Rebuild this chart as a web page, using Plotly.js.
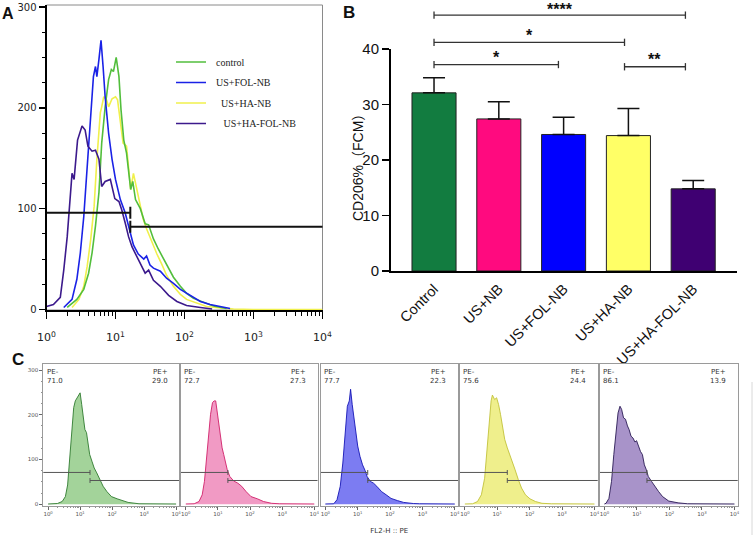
<!DOCTYPE html>
<html><head><meta charset="utf-8">
<script src="https://cdn.plot.ly/plotly-3.0.1.min.js"></script>
<style>html,body{margin:0;padding:0;background:#fff}#chart{width:753px;height:535px}</style>
</head><body><div id="chart"></div>
<script>
// ---------------- Panel A : overlaid PE histograms (log10 intensity, cell count)
const aControlLog   = [0.3,0.44,0.54,0.61,0.66,0.71,0.76,0.80,0.85,0.90,0.94,0.97,1.01,1.05,1.08,1.12,1.16,1.19,1.22,1.25,1.29,1.36,1.43,1.48,1.55,1.62,1.70,1.77,1.84,1.94,2.03,2.13,2.27,2.42,2.61];
const aControlCount = [2,10,20,36,56,83,116,165,201,228,238,236,250,231,198,168,155,135,119,127,109,100,85,84,70,60,50,42,32,23,16,11,7,3.5,1];
const aFolLog   = [0.25,0.37,0.44,0.49,0.54,0.59,0.64,0.68,0.71,0.73,0.76,0.79,0.82,0.85,0.9,0.95,1.0,1.07,1.14,1.21,1.26,1.33,1.41,1.45,1.5,1.55,1.65,1.74,1.84,1.94,2.03,2.13,2.23,2.37,2.52,2.66];
const aFolCount = [2,10,30,56,92,142,182,231,241,231,248,267,241,211,175,149,129,109,96,76,64,55,50,53,44,41,38,31,26,20,16,12,8,5,3,1];
const aHaLog   = [0.37,0.47,0.54,0.59,0.64,0.69,0.73,0.78,0.80,0.83,0.87,0.90,0.95,1.0,1.03,1.07,1.11,1.16,1.19,1.22,1.26,1.30,1.35,1.40,1.45,1.53,1.60,1.67,1.74,1.84,1.94,2.03,2.18,2.32,2.52,2.71,3.0,4.0];
const aHaCount = [2,10,23,43,69,102,149,195,201,211,208,201,209,211,208,185,165,162,139,119,135,122,109,90,80,66,55,45,34,23,15,10,6,3,1.5,0.5,0,0];
const aHaFolLog   = [0,0.1,0.2,0.25,0.3,0.35,0.37,0.4,0.45,0.515,0.56,0.6,0.66,0.71,0.76,0.8,0.85,0.925,0.99,1.05,1.09,1.14,1.19,1.24,1.31,1.38,1.43,1.48,1.55,1.65,1.77,1.89,2.03,2.23,2.4];
const aHaFolCount = [3,5,12,39,72,118,135,129,168,182,178,162,157,158,149,122,127,129,110,107,99,86,72,62,52,42,36,39,29,23,14,8,4,2,0.5];
const aNames  = ['control','US+FOL-NB','US+HA-NB','US+HA-FOL-NB'];
const aColors = ['#52be3c','#1a22e6','#f0f04c','#3c1a8c'];
// gate in panel A
const aGateSplit = 16.4, aGateLeft = 96, aGateRight = 82;

// ---------------- Panel B : CD206% bar chart
const bCategories = ['Control','US+NB','US+FOL-NB','US+HA-NB','US+HA-FOL-NB'];
const bMeans  = [32.1, 27.4, 24.6, 24.4, 14.8];
const bErrors = [2.7, 3.1, 3.1, 4.9, 1.5];
const bColors = ['#127c40','#ff0a7f','#0000ff','#ffff66','#3f0072'];
const bTitle = 'CD206%（FCM）';
// significance brackets (category positions, level in % units, label)
const sigX0 = [0, 0, 0, 2.94];
const sigX1 = [3.88, 2.94, 1.92, 3.88];
const sigLevel = [46.1, 41.2, 37.2, 36.8];
const sigLabel = ['****', '*', '*', '**'];

// ---------------- Panel C : individual PE histograms
const cNames = ['Control','US+NB','US+FOL-NB','US+HA-NB','US+HA-FOL-NB'];
const cLog = [
  [0,0.29,0.44,0.54,0.61,0.67,0.74,0.80,0.85,0.91,0.96,1.0,1.05,1.10,1.15,1.20,1.25,1.30,1.37,1.44,1.52,1.62,1.72,1.84,1.98,2.16,2.30,2.5,2.84,4],
  [0,0.26,0.41,0.51,0.58,0.64,0.71,0.77,0.83,0.88,0.93,0.98,1.03,1.08,1.13,1.18,1.23,1.29,1.37,1.49,1.62,1.74,1.88,2.03,2.23,2.42,2.67,2.91,4],
  [0,0.26,0.36,0.46,0.54,0.61,0.68,0.74,0.78,0.83,0.88,0.93,1.0,1.07,1.15,1.23,1.29,1.39,1.49,1.59,1.74,1.88,2.03,2.23,2.42,2.72,2.91,4],
  [0,0.24,0.39,0.51,0.61,0.68,0.75,0.81,0.85,0.92,0.98,1.04,1.10,1.17,1.23,1.31,1.39,1.47,1.55,1.65,1.75,1.87,2.01,2.18,2.38,2.67,4],
  [0,0.05,0.14,0.22,0.29,0.36,0.42,0.48,0.53,0.59,0.65,0.71,0.76,0.82,0.88,0.94,0.99,1.05,1.11,1.17,1.23,1.29,1.35,1.45,1.55,1.67,1.79,1.98,2.27,2.56,4]
];
const cCount = [
  [0.5,1.5,6,17,43,96,156,216,231,238,242,249,223,193,167,160,130,111,96,81,70,55,40,28,17,12,8,4,1,0.5],
  [0.5,1,6,21,51,96,156,201,227,231,231,205,178,148,126,111,96,77,62,52,47,40,28,17,12,6,2,1,0.5],
  [0.5,1,10,40,92,160,219,231,257,223,197,160,130,107,88,75,62,51,47,40,28,21,13,8,4,1.5,1,0.5],
  [0.5,1,6,21,58,118,186,231,244,234,238,223,201,171,145,126,111,96,77,55,36,21,12,6,2,1,0.5],
  [0.5,2,13,51,111,171,204,219,212,193,190,175,167,152,148,139,142,130,118,111,88,77,62,51,40,28,17,7,3,1,0.5]
];
const cNeg = [71.0, 72.7, 77.7, 75.6, 86.1];
const cPos = [29.0, 27.3, 22.3, 24.4, 13.9];
const cFill = ['#a3d39a','#f19ac4','#7c7cf2','#efef8c','#a893c9'];
const cLine = ['#2f7a2f','#d0206a','#1515b5','#c2c23a','#2a1b55'];
const cGateSplit = 20.4, cGateLeft = 71, cGateRight = 53;

// ---------------- helpers
const W = 753, H = 535;
const px = v => v / W;
const py = v => 1 - v / H;
const pow10 = a => a.map(v => Math.pow(10, v));
const decades = [1, 10, 100, 1000, 10000];
const decadeText = ['10<sup>0</sup>','10<sup>1</sup>','10<sup>2</sup>','10<sup>3</sup>','10<sup>4</sup>'];
const minorLog = [];
for (let d = 0; d < 4; d++) for (let k = 2; k <= 9; k++) minorLog.push(k * Math.pow(10, d));
const minorLin = (step, max, major) => { const o = []; for (let v = step; v <= max; v += step) if (v % major) o.push(v); return o; };

function gateXY(split, left, right, half, xmin) {
  return {
    x: [xmin, split, null, split, split, null, split, 20000, null, split, split],
    y: [left, left, null, left - half, left + half, null, right, right, null, right - half, right + half]
  };
}

const traces = [];
// Panel A curves
const aLogs = [aControlLog, aFolLog, aHaLog, aHaFolLog];
const aCounts = [aControlCount, aFolCount, aHaCount, aHaFolCount];
const aPad = ['\u00a0\u00a0','\u00a0\u00a0','\u00a0\u00a0\u00a0\u00a0','\u00a0\u00a0\u00a0\u00a0\u00a0'];
const drawOrder = [2, 0, 1, 3];
drawOrder.forEach(i => {
  traces.push({
    type: 'scatter', mode: 'lines', xaxis: 'x', yaxis: 'y',
    x: pow10(aLogs[i]), y: aCounts[i],
    name: aPad[i] + aNames[i], legendgroup: 'g' + i, legendrank: i + 1,
    line: {color: aColors[i], width: 1.6}, hoverinfo: 'skip'
  });
});
const ga = gateXY(aGateSplit, aGateLeft, aGateRight, 6, 1);
traces.push({type: 'scatter', mode: 'lines', xaxis: 'x', yaxis: 'y', x: ga.x, y: ga.y,
  line: {color: '#111', width: 2}, showlegend: false, hoverinfo: 'skip'});

// Panel B bars
traces.push({
  type: 'bar', xaxis: 'x2', yaxis: 'y2', x: bCategories, y: bMeans, width: 0.68,
  marker: {color: bColors, line: {color: '#222', width: 1}},
  error_y: {type: 'data', symmetric: false, array: bErrors, arrayminus: bMeans.map(() => 0),
            color: '#111', thickness: 1.5, width: 11},
  showlegend: false, hoverinfo: 'skip'
});

// Panel C histograms
for (let i = 0; i < 5; i++) {
  const xa = 'x' + (3 + i), ya = 'y' + (3 + i);
  traces.push({
    type: 'scatter', mode: 'lines', xaxis: xa, yaxis: ya,
    x: pow10(cLog[i]), y: cCount[i], fill: 'tozeroy', fillcolor: cFill[i],
    line: {color: cLine[i], width: 0.9}, name: cNames[i], showlegend: false, hoverinfo: 'skip'
  });
  const g = gateXY(cGateSplit, cGateLeft, cGateRight, 5.5, 0.6);
  traces.push({type: 'scatter', mode: 'lines', xaxis: xa, yaxis: ya, x: g.x, y: g.y,
    line: {color: '#555', width: 1}, showlegend: false, hoverinfo: 'skip'});
}

// ---------------- layout
const axBase = {showgrid: false, zeroline: false, fixedrange: true};
const layout = {
  width: W, height: H, margin: {l: 0, r: 0, t: 0, b: 0},
  paper_bgcolor: '#fff', plot_bgcolor: 'rgba(0,0,0,0)',
  font: {family: 'Liberation Sans, Arial, sans-serif', color: '#111'},
  showlegend: true,
  legend: {x: px(171), y: py(47.5), xanchor: 'left', yanchor: 'top', bgcolor: 'rgba(0,0,0,0)',
           borderwidth: 0, itemwidth: 30, tracegroupgap: 1.5, traceorder: 'grouped',
           font: {family: 'Liberation Serif, Times New Roman, serif', size: 10, color: '#222'}},
  xaxis: Object.assign({}, axBase, {
    type: 'log', domain: [px(46.5), px(322.5)], range: [0, 4], anchor: 'y',
    showline: true, linecolor: '#000', linewidth: 2,
    ticks: 'outside', ticklen: 7, tickwidth: 1.5, tickcolor: '#000', ticklabelstandoff: 9,
    tickmode: 'array', tickvals: decades, ticktext: decadeText,
    tickfont: {family: 'DejaVu Sans', size: 11, color: '#222'},
    minor: {tickmode: 'array', tickvals: minorLog, ticks: 'outside', ticklen: 4, tickcolor: '#000', tickwidth: 1}
  }),
  yaxis: Object.assign({}, axBase, {
    domain: [py(310), py(5)], range: [-0.5, 302], anchor: 'x',
    showline: true, linecolor: '#000', linewidth: 2,
    ticks: 'outside', ticklen: 6, tickwidth: 1.5, tickcolor: '#000',
    tickmode: 'array', tickvals: [0, 100, 200, 300],
    tickfont: {family: 'DejaVu Sans', size: 10, color: '#222'},
    minor: {tickmode: 'array', tickvals: minorLin(25, 300, 100), ticks: 'outside', ticklen: 3, tickcolor: '#000', tickwidth: 1}
  }),
  xaxis2: Object.assign({}, axBase, {
    type: 'category', domain: [px(391), px(737)], range: [-0.664, 4.676], anchor: 'y2',
    showline: true, linecolor: '#000', linewidth: 2,
    ticks: 'outside', ticklen: 2, tickcolor: 'rgba(0,0,0,0)', tickangle: -45,
    tickfont: {family: 'Liberation Sans, Arial', size: 14.5, color: '#111'}
  }),
  yaxis2: Object.assign({}, axBase, {
    domain: [py(271), py(49)], range: [0, 40], anchor: 'x2',
    showline: true, linecolor: '#000', linewidth: 2,
    ticks: 'outside', ticklen: 7, tickwidth: 1.5, tickcolor: '#000',
    tickmode: 'array', tickvals: [0, 10, 20, 30, 40],
    tickfont: {family: 'Liberation Sans, Arial', size: 15, color: '#111'}
  }),
  shapes: [], annotations: []
};

const cDom = [[43.3, 179.3], [181, 317.5], [320.5, 458], [460, 597.7], [599.5, 737.7]];
for (let i = 0; i < 5; i++) {
  const n = 3 + i;
  layout['xaxis' + n] = Object.assign({}, axBase, {
    type: 'log', domain: [px(cDom[i][0]), px(cDom[i][1])], range: [-0.15, 4.1], anchor: 'y' + n,
    showline: true, mirror: true, linecolor: '#9a9a9a', linewidth: 1,
    ticks: 'outside', ticklen: 3, tickwidth: 1, tickcolor: '#666',
    tickmode: 'array', tickvals: decades, ticktext: decadeText,
    tickfont: {family: 'DejaVu Sans', size: 5.5, color: '#555'},
    minor: {tickmode: 'array', tickvals: minorLog, ticks: 'outside', ticklen: 1.5, tickcolor: '#777', tickwidth: 0.8}
  });
  const yax = Object.assign({}, axBase, {
    domain: [py(505.5), py(364.3)], range: [-2.9, 312.8], anchor: 'x' + n,
    showline: true, mirror: true, linecolor: '#9a9a9a', linewidth: 1
  });
  if (i === 0) {
    Object.assign(yax, {ticks: 'outside', ticklen: 3, tickwidth: 1, tickcolor: '#666',
      tickmode: 'array', tickvals: [0, 100, 200, 300],
      tickfont: {family: 'DejaVu Sans', size: 5.5, color: '#555'},
      minor: {tickmode: 'array', tickvals: minorLin(25, 300, 100), ticks: 'outside', ticklen: 1.5, tickcolor: '#777', tickwidth: 0.8}});
  } else {
    Object.assign(yax, {ticks: '', showticklabels: false});
  }
  layout['yaxis' + n] = yax;
  layout.annotations.push(
    {xref: 'x' + n + ' domain', yref: 'y' + n + ' domain', x: 0.01, y: 0.99, xanchor: 'left', yanchor: 'top',
     text: 'PE-<br>' + cNeg[i].toFixed(1), align: 'left', showarrow: false,
     font: {family: 'DejaVu Sans', size: 7, color: '#333'}},
    {xref: 'x' + n + ' domain', yref: 'y' + n + ' domain', x: 0.93, y: 0.99, xanchor: 'right', yanchor: 'top',
     text: 'PE+<br>' + cPos[i].toFixed(1), align: 'right', showarrow: false,
     font: {family: 'DejaVu Sans', size: 7, color: '#333'}}
  );
}
layout.xaxis5.title = {text: 'FL2-H :: PE', standoff: 12, font: {family: 'DejaVu Sans', size: 7, color: '#333'}};

// panel A frame
layout.shapes.push({type: 'rect', xref: 'x domain', yref: 'y domain', x0: 0, x1: 1, y0: 0, y1: 1,
  line: {color: '#8a8a8a', width: 1}, layer: 'below'});
// faint edge line at far right of the figure
layout.shapes.push({type: 'line', xref: 'paper', yref: 'paper', x0: px(752), x1: px(752), y0: py(382), y1: 0,
  line: {color: '#d8d8d8', width: 1}});

// B y-axis title
layout.annotations.push({xref: 'paper', yref: 'paper', x: px(358), y: py(164), xanchor: 'center', yanchor: 'middle',
  textangle: -90, showarrow: false, text: bTitle,
  font: {family: 'Liberation Sans, Noto Sans CJK SC, sans-serif', size: 14, color: '#111'}});

// significance brackets in panel B
const bDom = layout.yaxis2.domain;
const bY = v => bDom[0] + (v - 0) / 40 * (bDom[1] - bDom[0]);
const bTick = 0.66;
const starShift = [5.5, 7, 7, 7];
for (let k = 0; k < sigLabel.length; k++) {
  const lc = {color: '#333', width: 1.3};
  layout.shapes.push(
    {type: 'line', xref: 'x2', yref: 'paper', x0: sigX0[k], x1: sigX1[k], y0: bY(sigLevel[k]), y1: bY(sigLevel[k]), line: lc},
    {type: 'line', xref: 'x2', yref: 'paper', x0: sigX0[k], x1: sigX0[k], y0: bY(sigLevel[k] - bTick), y1: bY(sigLevel[k] + bTick), line: lc},
    {type: 'line', xref: 'x2', yref: 'paper', x0: sigX1[k], x1: sigX1[k], y0: bY(sigLevel[k] - bTick), y1: bY(sigLevel[k] + bTick), line: lc}
  );
  layout.annotations.push({xref: 'x2', yref: 'paper', x: (sigX0[k] + sigX1[k]) / 2, y: bY(sigLevel[k]),
    xanchor: 'center', yanchor: 'middle', yshift: starShift[k], showarrow: false, borderpad: 0,
    text: '<b>' + sigLabel[k] + '</b>', font: {family: 'Liberation Sans, Arial', size: 16, color: '#111'}});
}

// panel letters
[['A', 8, 14, 16], ['B', 349, 13, 17], ['C', 18, 359, 17]].forEach(([t, x, y, s]) => {
  layout.annotations.push({xref: 'paper', yref: 'paper', x: px(x), y: py(y), xanchor: 'center', yanchor: 'middle',
    showarrow: false, borderpad: 0, text: '<b>' + t + '</b>', font: {family: 'Liberation Sans, Arial', size: s, color: '#111'}});
});

Plotly.newPlot('chart', traces, layout, {displayModeBar: false, staticPlot: true});
</script></body></html>
